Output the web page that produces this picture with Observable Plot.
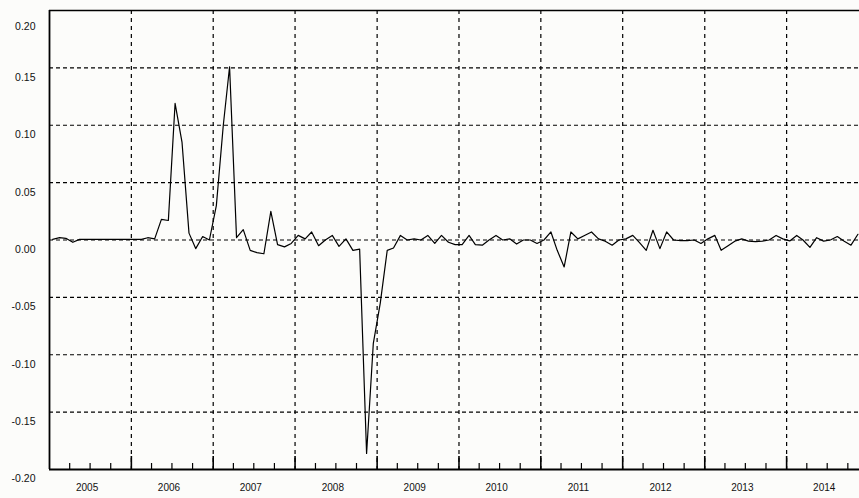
<!DOCTYPE html>
<html><head><meta charset="utf-8">
<script src="https://cdn.jsdelivr.net/npm/d3@7"></script>
<script src="https://cdn.jsdelivr.net/npm/@observablehq/plot@0.6"></script>
<style>
html,body{margin:0;padding:0;background:#fcfcfa;}
svg{display:block}
</style></head><body><div id="chart"></div>
<script>
const startYear = 2005;
// monthly values (mid-month), Jan 2005 .. Nov 2014
const values = [
  0.0006, 0.002, 0.0015, -0.002, 0.0005, 0.0005, 0.0005, 0.0005, 0.0005, 0.0005, 0.0005, 0.0005,
  0.0005, 0.0005, 0.002, 0.001, 0.018, 0.017, 0.119, 0.085, 0.006, -0.0075, 0.003, 0.0,
  0.03, 0.1, 0.151, 0.002, 0.009, -0.009, -0.011, -0.012, 0.025, -0.004, -0.006, -0.003,
  0.004, 0.001, 0.007, -0.005, 0.0, 0.004, -0.0055, 0.001, -0.009, -0.008, -0.186, -0.09,
  -0.055, -0.009, -0.007, 0.004, 0.0, 0.001, 0.0, 0.004, -0.003, 0.004, -0.002, -0.004,
  -0.004, 0.004, -0.004, -0.0045, 0.0, 0.004, 0.0, 0.001, -0.0035, 0.0, 0.0, -0.003,
  0.0, 0.007, -0.009, -0.0235, 0.007, 0.001, 0.004, 0.007, 0.001, -0.001, -0.0045, 0.0,
  0.001, 0.004, -0.002, -0.009, 0.0085, -0.0075, 0.007, 0.0, -0.0005, -0.0005, 0.0, -0.003,
  0.001, 0.004, -0.009, -0.005, -0.001, 0.001, -0.001, -0.0015, -0.001, 0.0, 0.004, 0.001,
  -0.0008, 0.004, 0.0, -0.0065, 0.002, -0.001, 0.0, 0.003, -0.001, -0.0045, 0.005
];
const yearLabels = ["2005","2006","2007","2008","2009","2010","2011","2012","2013","2014"];
const yTicks = [0.20, 0.15, 0.10, 0.05, 0.00, -0.05, -0.10, -0.15, -0.20];
const yTickLabels = ["0.20","0.15","0.10","0.05","0.00","-0.05","-0.10","-0.15","-0.20"];
const gridY = [0.15, 0.10, 0.05, 0.00, -0.05, -0.10, -0.15];

const xStart = new Date(Date.UTC(2005, 0, 1));
const xEnd = new Date(Date.UTC(2014, 10, 22));
const data = values.map((v, i) => ({date: new Date(Date.UTC(startYear, i, 15)), value: v}));
const yearStarts = yearLabels.slice(1).map(y => new Date(Date.UTC(+y, 0, 1)));
const quarters = d3.utcMonth.every(3).range(xStart, xEnd).filter(d => d.getUTCMonth() !== 0);
const yearMids = yearLabels.map(y => ({date: new Date(Date.UTC(+y, 6, 1)), label: y}));
const yLab = yTicks.map((v, i) => ({v, label: yTickLabels[i]}));

const chart = Plot.plot({
  width: 859, height: 498,
  marginLeft: 49, marginRight: 0, marginTop: 10, marginBottom: 29,
  style: {background: "transparent", fontFamily: "'Liberation Sans', Arial, sans-serif", color: "#000"},
  x: {type: "utc", domain: [xStart, xEnd], axis: null},
  y: {domain: [-0.2, 0.2], axis: null},
  marks: [
    Plot.ruleY(gridY, {stroke: "#000", strokeDasharray: "4,3", strokeWidth: 1.2}),
    Plot.ruleX(yearStarts, {stroke: "#000", strokeDasharray: "4,4", strokeWidth: 1.2}),
    Plot.ruleX(quarters, {insetTop: 453, stroke: "#000", strokeWidth: 1.2}),
    Plot.ruleX(yearStarts, {insetTop: 446, stroke: "#000", strokeWidth: 1.6}),
    Plot.line(data, {x: "date", y: "value", stroke: "#000", strokeWidth: 1.2, clip: true}),
    Plot.ruleY([0.2], {stroke: "#000", strokeWidth: 1.5}),
    Plot.ruleY([-0.2], {stroke: "#000", strokeWidth: 1.8}),
    Plot.ruleX([xStart], {stroke: "#000", strokeWidth: 1.8}),
    Plot.text(yLab.filter(d => d.v !== 0.2), {y: "v", text: "label", frameAnchor: "left", textAnchor: "end", dx: -14, dy: 9.5, fontSize: 10.5, fill: "#111"}),
    Plot.text(yLab.filter(d => d.v === 0.2), {y: "v", text: "label", frameAnchor: "left", textAnchor: "end", dx: -14, dy: 16, fontSize: 10.5, fill: "#111"}),
    Plot.text(yearMids, {x: "date", text: "label", frameAnchor: "bottom", dy: 21, dx: -3, fontSize: 10, fill: "#111"})
  ]
});
document.getElementById("chart").appendChild(chart);
</script>
</body></html>
